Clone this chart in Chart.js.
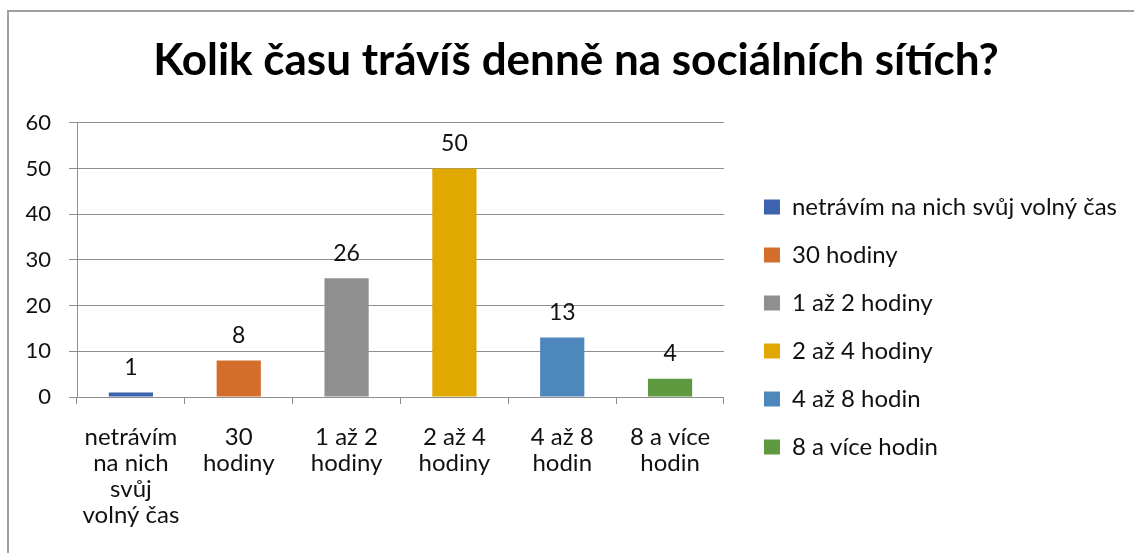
<!DOCTYPE html>
<html>
<head>
<meta charset="utf-8">
<script src="https://cdn.jsdelivr.net/npm/chart.js@4.4.2/dist/chart.umd.min.js"></script>
<style>
  html, body { margin: 0; padding: 0; background: #fff; }
  #wrap { position: relative; width: 1134px; height: 553px; }
  #frame { position: absolute; left: 7px; top: 10px; right: 0; bottom: 0;
           border-top: 2px solid #a0a0a0; border-left: 2px solid #a0a0a0; pointer-events: none; }
</style>
</head>
<body>
<div id="wrap">
  <canvas id="chart" width="1134" height="553"></canvas>
  <div id="frame"></div>
</div>
<script>
// data
const categories = [
  ['netrávím', 'na nich', 'svůj', 'volný čas'],
  ['30', 'hodiny'],
  ['1 až 2', 'hodiny'],
  ['2 až 4', 'hodiny'],
  ['4 až 8', 'hodin'],
  ['8 a více', 'hodin'],
];
const legendNames = [
  'netrávím na nich svůj volný čas',
  '30 hodiny',
  '1 až 2 hodiny',
  '2 až 4 hodiny',
  '4 až 8 hodin',
  '8 a více hodin',
];
const values = [1, 8, 26, 50, 13, 4];
const barColors = ['#3c64ae', '#d36d2c', '#8f8f8f', '#e0a800', '#4e87bc', '#5e983f'];
const yTicks = [0, 10, 20, 30, 40, 50, 60];

const FONT = 'Lato, "Liberation Sans", sans-serif';
const TXT = 23;
const LEG = 24;
const GRID = '#8e8e8e';
const LEGEND_GAP = 16; // extra room between plot and legend boxes

Chart.defaults.color = '#111';
Chart.defaults.font.family = FONT;

// value above each bar
const valueLabels = {
  id: 'valueLabels',
  afterDatasetsDraw(chart) {
    const { ctx } = chart;
    const meta = chart.getDatasetMeta(0);
    ctx.save();
    ctx.font = `${TXT}px ${FONT}`;
    ctx.fillStyle = '#111';
    ctx.textAlign = 'center';
    ctx.textBaseline = 'middle';
    meta.data.forEach((bar, i) => ctx.fillText(String(values[i]), bar.x, bar.y - 25));
    ctx.restore();
  },
};

// the legend is wider than chart.js lets a side box be, and sits further from the plot
const legendFix = {
  id: 'legendFix',
  beforeUpdate(chart) {
    const lg = chart.legend;
    if (!lg || lg._fixed) return;
    const update = lg.update, fit = lg.fit;
    lg.update = function (w, h, m) { return update.call(this, 1134, h, m); };
    lg.fit = function () { fit.call(this); this.width += LEGEND_GAP; };
    lg._fixed = true;
  },
  afterLayout(chart) {
    chart.legend.left += LEGEND_GAP;
    chart.legend.right += LEGEND_GAP;
  },
};

new Chart(document.getElementById('chart'), {
  type: 'bar',
  data: {
    labels: categories,
    datasets: [{
      data: values,
      backgroundColor: barColors,
      borderWidth: 0,
      barPercentage: 0.41,
      categoryPercentage: 1,
    }],
  },
  plugins: [valueLabels, legendFix],
  options: {
    responsive: false,
    animation: false,
    layout: { padding: { left: 25, right: 7, top: 0, bottom: 5 } },
    plugins: {
      title: {
        display: true,
        text: 'Kolik času trávíš denně na sociálních sítích?',
        color: '#000',
        font: { size: 44, weight: 'bold', family: FONT },
        padding: { top: 34, bottom: 36 },
      },
      legend: {
        position: 'right',
        align: 'start',
        title: { display: true, text: ' ', font: { size: 10, lineHeight: 1 }, padding: { top: 161, bottom: 0 } },
        labels: {
          boxWidth: 16, boxHeight: 15, padding: 24,
          color: '#111',
          font: { size: LEG, family: FONT },
          generateLabels: () => legendNames.map((text, i) => ({
            text, fillStyle: barColors[i], strokeStyle: barColors[i],
            lineWidth: 0, hidden: false, index: i,
          })),
        },
      },
      tooltip: { enabled: false },
    },
    scales: {
      x: {
        grid: { drawOnChartArea: false, drawTicks: true, tickLength: 7, color: GRID, offset: true },
        border: { display: true, color: GRID },
        ticks: { font: { size: 24, lineHeight: 26 / 24 }, padding: 20, maxRotation: 0, autoSkip: false },
        afterFit: s => { s.paddingLeft = 0; s.paddingRight = 0; },
      },
      y: {
        min: yTicks[0], max: yTicks[yTicks.length - 1],
        afterBuildTicks: s => { s.ticks = yTicks.map(v => ({ value: v })); },
        afterFit: s => { s.width = 52; },
        grid: { color: GRID, tickLength: 8 },
        border: { display: true, color: GRID },
        ticks: { font: { size: 22 }, padding: 18 },
      },
    },
  },
});
</script>
</body>
</html>
